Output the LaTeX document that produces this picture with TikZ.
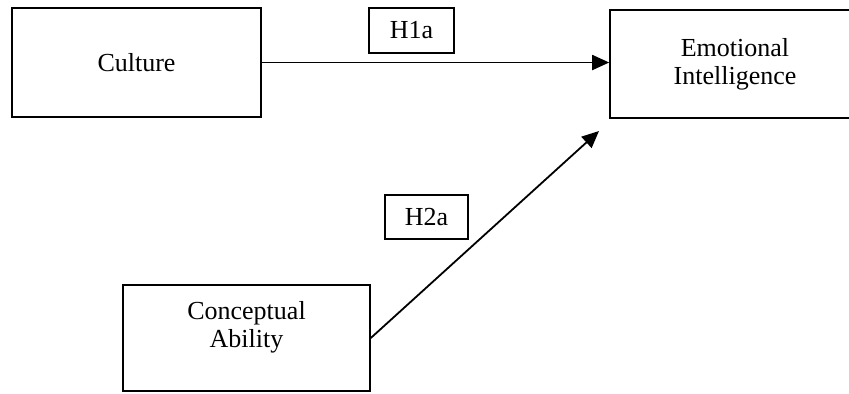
\documentclass[tikz,border=0pt]{standalone}
\usepackage{fontspec}
\setmainfont{Liberation Serif}
\usetikzlibrary{arrows.meta}
\usetikzlibrary{positioning}
\tikzset{box/.style = {draw, line width=0.8pt, align=center, inner sep=0,
                       font=\fontsize{13}{14}\selectfont}}
\tikzset{hyp/.style = {draw, line width=0.7pt, inner sep=0,
                       font=\fontsize{13}{14}\selectfont}}
\tikzset{link/.style = {line width=0.9pt, -{Triangle[length=8.5pt, width=7.5pt]}}}

\begin{document}
\begin{tikzpicture}[x=0.5pt, y=-0.5pt]
    \useasboundingbox (0, 0) rectangle (849, 393);

    \node [box, minimum width=124.5pt, minimum height=54.5pt] (culture) at (136.5, 62.5) {Culture};
    \node [box, minimum width=125pt, minimum height=54pt] (emotion) at (735, 64) {Emotional\\Intelligence};
    \node [box, minimum width=123.5pt, minimum height=53pt, text depth=14pt] (concept) at (246.5, 338) {Conceptual\\Ability};

    \node [hyp, minimum width=42.5pt, minimum height=22.5pt] (hone) at (411.5, 30.5) {H1a};
    \node [hyp, minimum width=41.5pt, minimum height=22pt] (htwo) at (426.5, 217) {H2a};

    \coordinate (tip) at (599, 131);
    \draw [link] (culture.east) -- (culture.east -| emotion.west);
    \draw [link] (concept.east) -- (tip);
  \end{tikzpicture}
\end{document}
